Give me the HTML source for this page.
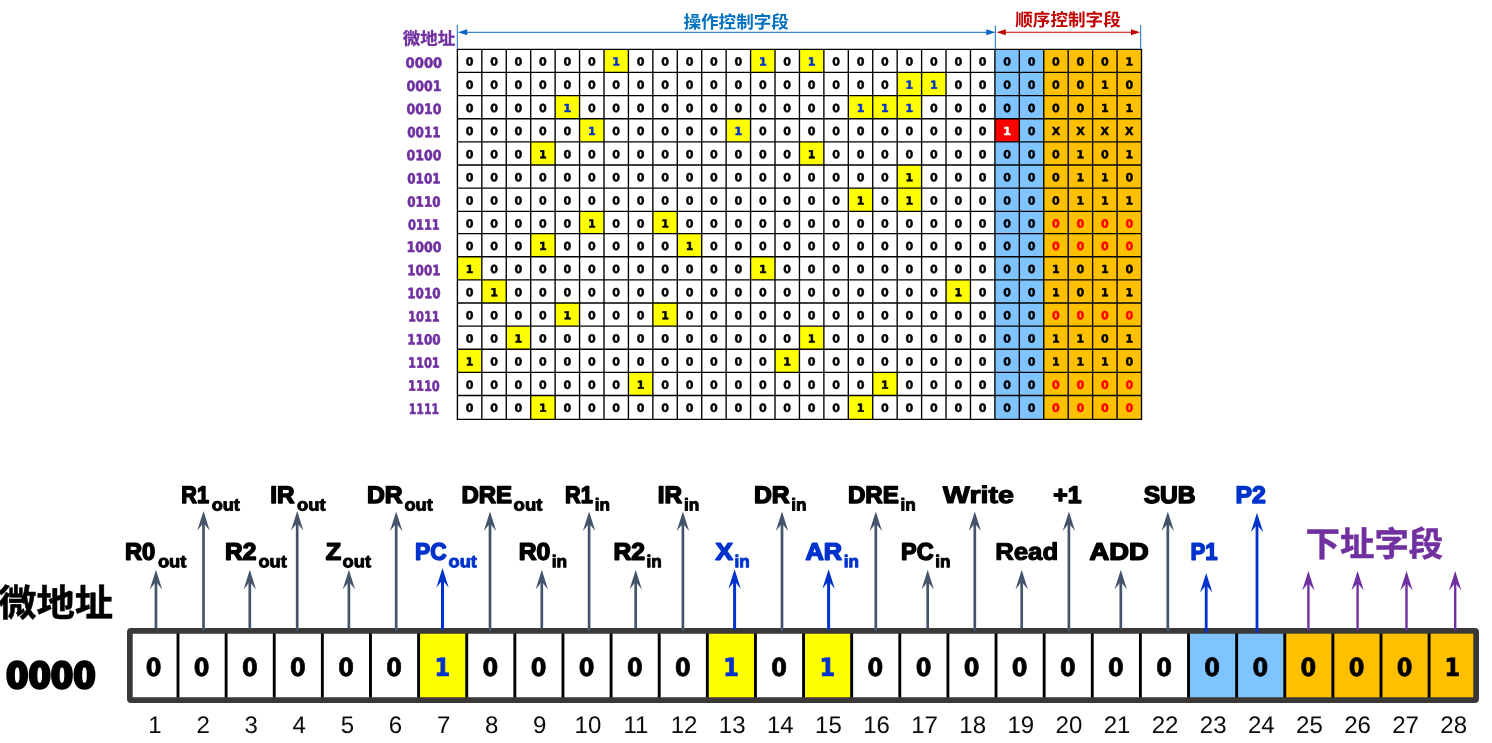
<!DOCTYPE html>
<html lang="zh"><head><meta charset="utf-8"><title>微程序 微指令格式</title>
<style>html,body{margin:0;padding:0;background:#fff;overflow:hidden}svg{display:block}.d{font-family:'DejaVu Sans','Liberation Sans',sans-serif;font-weight:bold;font-size:11.1px;text-anchor:middle;stroke-width:0.45px;stroke-linejoin:round}.d1{stroke-width:0.5px}.rl{font-family:'DejaVu Sans','Liberation Sans',sans-serif;font-weight:bold;font-size:14.2px;text-anchor:middle;fill:#7030A0;stroke:#7030A0;stroke-width:0.6px;stroke-linejoin:round}.cj{font-family:'Liberation Sans','Noto Sans CJK SC',sans-serif;font-weight:bold}.lb{font-family:'Liberation Sans',sans-serif;font-weight:bold;font-size:24px;stroke-width:1.5px;stroke-linejoin:round}.sb{font-size:17.2px;stroke-width:0.95px}.bd{font-family:'DejaVu Sans Condensed','DejaVu Sans','Liberation Sans',sans-serif;font-weight:bold;font-size:25.0px;text-anchor:middle;stroke-width:0.7px;stroke-linejoin:round}.nm{font-family:'Liberation Sans',sans-serif;font-size:24px;text-anchor:middle;fill:#0a0a0a}</style></head><body>
<svg width="1492" height="743" viewBox="0 0 1492 743">
<rect width="1492" height="743" fill="#fff"/>
<g id="table">
<rect x="994.90" y="49.30" width="48.86" height="370.00" fill="#80C4FF"/>
<rect x="1043.77" y="49.30" width="97.73" height="370.00" fill="#FFC000"/>
<rect x="603.99" y="49.30" width="24.43" height="23.14" fill="#FFFF00"/>
<rect x="750.58" y="49.30" width="24.43" height="23.14" fill="#FFFF00"/>
<rect x="799.45" y="49.30" width="24.43" height="23.14" fill="#FFFF00"/>
<rect x="897.18" y="72.44" width="24.43" height="23.14" fill="#FFFF00"/>
<rect x="921.61" y="72.44" width="24.43" height="23.14" fill="#FFFF00"/>
<rect x="555.13" y="95.59" width="24.43" height="23.14" fill="#FFFF00"/>
<rect x="848.31" y="95.59" width="24.43" height="23.14" fill="#FFFF00"/>
<rect x="872.74" y="95.59" width="24.43" height="23.14" fill="#FFFF00"/>
<rect x="897.18" y="95.59" width="24.43" height="23.14" fill="#FFFF00"/>
<rect x="579.56" y="118.73" width="24.43" height="23.14" fill="#FFFF00"/>
<rect x="726.15" y="118.73" width="24.43" height="23.14" fill="#FFFF00"/>
<rect x="994.90" y="118.73" width="24.43" height="23.14" fill="#FF0000"/>
<rect x="530.70" y="141.87" width="24.43" height="23.14" fill="#FFFF00"/>
<rect x="799.45" y="141.87" width="24.43" height="23.14" fill="#FFFF00"/>
<rect x="897.18" y="165.01" width="24.43" height="23.14" fill="#FFFF00"/>
<rect x="848.31" y="188.16" width="24.43" height="23.14" fill="#FFFF00"/>
<rect x="897.18" y="188.16" width="24.43" height="23.14" fill="#FFFF00"/>
<rect x="579.56" y="211.30" width="24.43" height="22.30" fill="#FFFF00"/>
<rect x="652.86" y="211.30" width="24.43" height="22.30" fill="#FFFF00"/>
<rect x="530.70" y="233.60" width="24.43" height="23.13" fill="#FFFF00"/>
<rect x="677.29" y="233.60" width="24.43" height="23.13" fill="#FFFF00"/>
<rect x="457.40" y="256.73" width="24.43" height="23.13" fill="#FFFF00"/>
<rect x="750.58" y="256.73" width="24.43" height="23.13" fill="#FFFF00"/>
<rect x="481.83" y="279.86" width="24.43" height="23.13" fill="#FFFF00"/>
<rect x="946.04" y="279.86" width="24.43" height="23.13" fill="#FFFF00"/>
<rect x="555.13" y="302.99" width="24.43" height="23.13" fill="#FFFF00"/>
<rect x="652.86" y="302.99" width="24.43" height="23.13" fill="#FFFF00"/>
<rect x="506.26" y="326.12" width="24.43" height="23.13" fill="#FFFF00"/>
<rect x="799.45" y="326.12" width="24.43" height="23.13" fill="#FFFF00"/>
<rect x="457.40" y="349.25" width="24.43" height="23.13" fill="#FFFF00"/>
<rect x="775.02" y="349.25" width="24.43" height="23.13" fill="#FFFF00"/>
<rect x="628.42" y="372.38" width="24.43" height="23.13" fill="#FFFF00"/>
<rect x="872.74" y="372.38" width="24.43" height="23.13" fill="#FFFF00"/>
<rect x="530.70" y="395.51" width="24.43" height="23.79" fill="#FFFF00"/>
<rect x="848.31" y="395.51" width="24.43" height="23.79" fill="#FFFF00"/>
<path d="M457.40 48.65V419.95M481.83 48.65V419.95M506.26 48.65V419.95M530.70 48.65V419.95M555.13 48.65V419.95M579.56 48.65V419.95M603.99 48.65V419.95M628.42 48.65V419.95M652.86 48.65V419.95M677.29 48.65V419.95M701.72 48.65V419.95M726.15 48.65V419.95M750.58 48.65V419.95M775.02 48.65V419.95M799.45 48.65V419.95M823.88 48.65V419.95M848.31 48.65V419.95M872.74 48.65V419.95M897.18 48.65V419.95M921.61 48.65V419.95M946.04 48.65V419.95M970.47 48.65V419.95M994.90 48.65V419.95M1019.34 48.65V419.95M1043.77 48.65V419.95M1068.20 48.65V419.95M1092.63 48.65V419.95M1117.06 48.65V419.95M1141.50 48.65V419.95M456.75 49.30H1142.15M456.75 72.44H1142.15M456.75 95.59H1142.15M456.75 118.73H1142.15M456.75 141.87H1142.15M456.75 165.01H1142.15M456.75 188.16H1142.15M456.75 211.30H1142.15M456.75 233.60H1142.15M456.75 256.73H1142.15M456.75 279.86H1142.15M456.75 302.99H1142.15M456.75 326.12H1142.15M456.75 349.25H1142.15M456.75 372.38H1142.15M456.75 395.51H1142.15M456.75 419.30H1142.15" stroke="#000" stroke-width="1.35" fill="none"/>
<g>
<text class="rl" x="423.9" y="67.80" transform="rotate(0.05 423.9 67.80)" textLength="36.6" lengthAdjust="spacingAndGlyphs">0000</text>
<text class="d" x="469.62" y="65.63" transform="rotate(0.05 469.62 65.63)" fill="#000" stroke="#000">0</text>
<text class="d" x="494.05" y="65.63" transform="rotate(0.05 494.05 65.63)" fill="#000" stroke="#000">0</text>
<text class="d" x="518.48" y="65.63" transform="rotate(0.05 518.48 65.63)" fill="#000" stroke="#000">0</text>
<text class="d" x="542.91" y="65.63" transform="rotate(0.05 542.91 65.63)" fill="#000" stroke="#000">0</text>
<text class="d" x="567.34" y="65.63" transform="rotate(0.05 567.34 65.63)" fill="#000" stroke="#000">0</text>
<text class="d" x="591.78" y="65.63" transform="rotate(0.05 591.78 65.63)" fill="#000" stroke="#000">0</text>
<text class="d d1" x="616.21" y="65.63" transform="rotate(0.05 616.21 65.63)" fill="#0033CC" stroke="#0033CC">1</text>
<text class="d" x="640.64" y="65.63" transform="rotate(0.05 640.64 65.63)" fill="#000" stroke="#000">0</text>
<text class="d" x="665.07" y="65.63" transform="rotate(0.05 665.07 65.63)" fill="#000" stroke="#000">0</text>
<text class="d" x="689.50" y="65.63" transform="rotate(0.05 689.50 65.63)" fill="#000" stroke="#000">0</text>
<text class="d" x="713.94" y="65.63" transform="rotate(0.05 713.94 65.63)" fill="#000" stroke="#000">0</text>
<text class="d" x="738.37" y="65.63" transform="rotate(0.05 738.37 65.63)" fill="#000" stroke="#000">0</text>
<text class="d d1" x="762.80" y="65.63" transform="rotate(0.05 762.80 65.63)" fill="#0033CC" stroke="#0033CC">1</text>
<text class="d" x="787.23" y="65.63" transform="rotate(0.05 787.23 65.63)" fill="#000" stroke="#000">0</text>
<text class="d d1" x="811.66" y="65.63" transform="rotate(0.05 811.66 65.63)" fill="#0033CC" stroke="#0033CC">1</text>
<text class="d" x="836.10" y="65.63" transform="rotate(0.05 836.10 65.63)" fill="#000" stroke="#000">0</text>
<text class="d" x="860.53" y="65.63" transform="rotate(0.05 860.53 65.63)" fill="#000" stroke="#000">0</text>
<text class="d" x="884.96" y="65.63" transform="rotate(0.05 884.96 65.63)" fill="#000" stroke="#000">0</text>
<text class="d" x="909.39" y="65.63" transform="rotate(0.05 909.39 65.63)" fill="#000" stroke="#000">0</text>
<text class="d" x="933.82" y="65.63" transform="rotate(0.05 933.82 65.63)" fill="#000" stroke="#000">0</text>
<text class="d" x="958.26" y="65.63" transform="rotate(0.05 958.26 65.63)" fill="#000" stroke="#000">0</text>
<text class="d" x="982.69" y="65.63" transform="rotate(0.05 982.69 65.63)" fill="#000" stroke="#000">0</text>
<text class="d" x="1007.12" y="65.63" transform="rotate(0.05 1007.12 65.63)" fill="#000" stroke="#000">0</text>
<text class="d" x="1031.55" y="65.63" transform="rotate(0.05 1031.55 65.63)" fill="#000" stroke="#000">0</text>
<text class="d" x="1055.98" y="65.63" transform="rotate(0.05 1055.98 65.63)" fill="#000" stroke="#000">0</text>
<text class="d" x="1080.42" y="65.63" transform="rotate(0.05 1080.42 65.63)" fill="#000" stroke="#000">0</text>
<text class="d" x="1104.85" y="65.63" transform="rotate(0.05 1104.85 65.63)" fill="#000" stroke="#000">0</text>
<text class="d d1" x="1129.28" y="65.63" transform="rotate(0.05 1129.28 65.63)" fill="#000" stroke="#000">1</text>
</g>
<g>
<text class="rl" x="423.9" y="90.94" transform="rotate(0.05 423.9 90.94)" textLength="35.0" lengthAdjust="spacingAndGlyphs">0001</text>
<text class="d" x="469.62" y="88.77" transform="rotate(0.05 469.62 88.77)" fill="#000" stroke="#000">0</text>
<text class="d" x="494.05" y="88.77" transform="rotate(0.05 494.05 88.77)" fill="#000" stroke="#000">0</text>
<text class="d" x="518.48" y="88.77" transform="rotate(0.05 518.48 88.77)" fill="#000" stroke="#000">0</text>
<text class="d" x="542.91" y="88.77" transform="rotate(0.05 542.91 88.77)" fill="#000" stroke="#000">0</text>
<text class="d" x="567.34" y="88.77" transform="rotate(0.05 567.34 88.77)" fill="#000" stroke="#000">0</text>
<text class="d" x="591.78" y="88.77" transform="rotate(0.05 591.78 88.77)" fill="#000" stroke="#000">0</text>
<text class="d" x="616.21" y="88.77" transform="rotate(0.05 616.21 88.77)" fill="#000" stroke="#000">0</text>
<text class="d" x="640.64" y="88.77" transform="rotate(0.05 640.64 88.77)" fill="#000" stroke="#000">0</text>
<text class="d" x="665.07" y="88.77" transform="rotate(0.05 665.07 88.77)" fill="#000" stroke="#000">0</text>
<text class="d" x="689.50" y="88.77" transform="rotate(0.05 689.50 88.77)" fill="#000" stroke="#000">0</text>
<text class="d" x="713.94" y="88.77" transform="rotate(0.05 713.94 88.77)" fill="#000" stroke="#000">0</text>
<text class="d" x="738.37" y="88.77" transform="rotate(0.05 738.37 88.77)" fill="#000" stroke="#000">0</text>
<text class="d" x="762.80" y="88.77" transform="rotate(0.05 762.80 88.77)" fill="#000" stroke="#000">0</text>
<text class="d" x="787.23" y="88.77" transform="rotate(0.05 787.23 88.77)" fill="#000" stroke="#000">0</text>
<text class="d" x="811.66" y="88.77" transform="rotate(0.05 811.66 88.77)" fill="#000" stroke="#000">0</text>
<text class="d" x="836.10" y="88.77" transform="rotate(0.05 836.10 88.77)" fill="#000" stroke="#000">0</text>
<text class="d" x="860.53" y="88.77" transform="rotate(0.05 860.53 88.77)" fill="#000" stroke="#000">0</text>
<text class="d" x="884.96" y="88.77" transform="rotate(0.05 884.96 88.77)" fill="#000" stroke="#000">0</text>
<text class="d d1" x="909.39" y="88.77" transform="rotate(0.05 909.39 88.77)" fill="#0033CC" stroke="#0033CC">1</text>
<text class="d d1" x="933.82" y="88.77" transform="rotate(0.05 933.82 88.77)" fill="#0033CC" stroke="#0033CC">1</text>
<text class="d" x="958.26" y="88.77" transform="rotate(0.05 958.26 88.77)" fill="#000" stroke="#000">0</text>
<text class="d" x="982.69" y="88.77" transform="rotate(0.05 982.69 88.77)" fill="#000" stroke="#000">0</text>
<text class="d" x="1007.12" y="88.77" transform="rotate(0.05 1007.12 88.77)" fill="#000" stroke="#000">0</text>
<text class="d" x="1031.55" y="88.77" transform="rotate(0.05 1031.55 88.77)" fill="#000" stroke="#000">0</text>
<text class="d" x="1055.98" y="88.77" transform="rotate(0.05 1055.98 88.77)" fill="#000" stroke="#000">0</text>
<text class="d" x="1080.42" y="88.77" transform="rotate(0.05 1080.42 88.77)" fill="#000" stroke="#000">0</text>
<text class="d d1" x="1104.85" y="88.77" transform="rotate(0.05 1104.85 88.77)" fill="#000" stroke="#000">1</text>
<text class="d" x="1129.28" y="88.77" transform="rotate(0.05 1129.28 88.77)" fill="#000" stroke="#000">0</text>
</g>
<g>
<text class="rl" x="423.9" y="114.09" transform="rotate(0.05 423.9 114.09)" textLength="35.0" lengthAdjust="spacingAndGlyphs">0010</text>
<text class="d" x="469.62" y="111.92" transform="rotate(0.05 469.62 111.92)" fill="#000" stroke="#000">0</text>
<text class="d" x="494.05" y="111.92" transform="rotate(0.05 494.05 111.92)" fill="#000" stroke="#000">0</text>
<text class="d" x="518.48" y="111.92" transform="rotate(0.05 518.48 111.92)" fill="#000" stroke="#000">0</text>
<text class="d" x="542.91" y="111.92" transform="rotate(0.05 542.91 111.92)" fill="#000" stroke="#000">0</text>
<text class="d d1" x="567.34" y="111.92" transform="rotate(0.05 567.34 111.92)" fill="#0033CC" stroke="#0033CC">1</text>
<text class="d" x="591.78" y="111.92" transform="rotate(0.05 591.78 111.92)" fill="#000" stroke="#000">0</text>
<text class="d" x="616.21" y="111.92" transform="rotate(0.05 616.21 111.92)" fill="#000" stroke="#000">0</text>
<text class="d" x="640.64" y="111.92" transform="rotate(0.05 640.64 111.92)" fill="#000" stroke="#000">0</text>
<text class="d" x="665.07" y="111.92" transform="rotate(0.05 665.07 111.92)" fill="#000" stroke="#000">0</text>
<text class="d" x="689.50" y="111.92" transform="rotate(0.05 689.50 111.92)" fill="#000" stroke="#000">0</text>
<text class="d" x="713.94" y="111.92" transform="rotate(0.05 713.94 111.92)" fill="#000" stroke="#000">0</text>
<text class="d" x="738.37" y="111.92" transform="rotate(0.05 738.37 111.92)" fill="#000" stroke="#000">0</text>
<text class="d" x="762.80" y="111.92" transform="rotate(0.05 762.80 111.92)" fill="#000" stroke="#000">0</text>
<text class="d" x="787.23" y="111.92" transform="rotate(0.05 787.23 111.92)" fill="#000" stroke="#000">0</text>
<text class="d" x="811.66" y="111.92" transform="rotate(0.05 811.66 111.92)" fill="#000" stroke="#000">0</text>
<text class="d" x="836.10" y="111.92" transform="rotate(0.05 836.10 111.92)" fill="#000" stroke="#000">0</text>
<text class="d d1" x="860.53" y="111.92" transform="rotate(0.05 860.53 111.92)" fill="#0033CC" stroke="#0033CC">1</text>
<text class="d d1" x="884.96" y="111.92" transform="rotate(0.05 884.96 111.92)" fill="#0033CC" stroke="#0033CC">1</text>
<text class="d d1" x="909.39" y="111.92" transform="rotate(0.05 909.39 111.92)" fill="#0033CC" stroke="#0033CC">1</text>
<text class="d" x="933.82" y="111.92" transform="rotate(0.05 933.82 111.92)" fill="#000" stroke="#000">0</text>
<text class="d" x="958.26" y="111.92" transform="rotate(0.05 958.26 111.92)" fill="#000" stroke="#000">0</text>
<text class="d" x="982.69" y="111.92" transform="rotate(0.05 982.69 111.92)" fill="#000" stroke="#000">0</text>
<text class="d" x="1007.12" y="111.92" transform="rotate(0.05 1007.12 111.92)" fill="#000" stroke="#000">0</text>
<text class="d" x="1031.55" y="111.92" transform="rotate(0.05 1031.55 111.92)" fill="#000" stroke="#000">0</text>
<text class="d" x="1055.98" y="111.92" transform="rotate(0.05 1055.98 111.92)" fill="#000" stroke="#000">0</text>
<text class="d" x="1080.42" y="111.92" transform="rotate(0.05 1080.42 111.92)" fill="#000" stroke="#000">0</text>
<text class="d d1" x="1104.85" y="111.92" transform="rotate(0.05 1104.85 111.92)" fill="#000" stroke="#000">1</text>
<text class="d d1" x="1129.28" y="111.92" transform="rotate(0.05 1129.28 111.92)" fill="#000" stroke="#000">1</text>
</g>
<g>
<text class="rl" x="423.9" y="137.23" transform="rotate(0.05 423.9 137.23)" textLength="33.4" lengthAdjust="spacingAndGlyphs">0011</text>
<text class="d" x="469.62" y="135.06" transform="rotate(0.05 469.62 135.06)" fill="#000" stroke="#000">0</text>
<text class="d" x="494.05" y="135.06" transform="rotate(0.05 494.05 135.06)" fill="#000" stroke="#000">0</text>
<text class="d" x="518.48" y="135.06" transform="rotate(0.05 518.48 135.06)" fill="#000" stroke="#000">0</text>
<text class="d" x="542.91" y="135.06" transform="rotate(0.05 542.91 135.06)" fill="#000" stroke="#000">0</text>
<text class="d" x="567.34" y="135.06" transform="rotate(0.05 567.34 135.06)" fill="#000" stroke="#000">0</text>
<text class="d d1" x="591.78" y="135.06" transform="rotate(0.05 591.78 135.06)" fill="#0033CC" stroke="#0033CC">1</text>
<text class="d" x="616.21" y="135.06" transform="rotate(0.05 616.21 135.06)" fill="#000" stroke="#000">0</text>
<text class="d" x="640.64" y="135.06" transform="rotate(0.05 640.64 135.06)" fill="#000" stroke="#000">0</text>
<text class="d" x="665.07" y="135.06" transform="rotate(0.05 665.07 135.06)" fill="#000" stroke="#000">0</text>
<text class="d" x="689.50" y="135.06" transform="rotate(0.05 689.50 135.06)" fill="#000" stroke="#000">0</text>
<text class="d" x="713.94" y="135.06" transform="rotate(0.05 713.94 135.06)" fill="#000" stroke="#000">0</text>
<text class="d d1" x="738.37" y="135.06" transform="rotate(0.05 738.37 135.06)" fill="#0033CC" stroke="#0033CC">1</text>
<text class="d" x="762.80" y="135.06" transform="rotate(0.05 762.80 135.06)" fill="#000" stroke="#000">0</text>
<text class="d" x="787.23" y="135.06" transform="rotate(0.05 787.23 135.06)" fill="#000" stroke="#000">0</text>
<text class="d" x="811.66" y="135.06" transform="rotate(0.05 811.66 135.06)" fill="#000" stroke="#000">0</text>
<text class="d" x="836.10" y="135.06" transform="rotate(0.05 836.10 135.06)" fill="#000" stroke="#000">0</text>
<text class="d" x="860.53" y="135.06" transform="rotate(0.05 860.53 135.06)" fill="#000" stroke="#000">0</text>
<text class="d" x="884.96" y="135.06" transform="rotate(0.05 884.96 135.06)" fill="#000" stroke="#000">0</text>
<text class="d" x="909.39" y="135.06" transform="rotate(0.05 909.39 135.06)" fill="#000" stroke="#000">0</text>
<text class="d" x="933.82" y="135.06" transform="rotate(0.05 933.82 135.06)" fill="#000" stroke="#000">0</text>
<text class="d" x="958.26" y="135.06" transform="rotate(0.05 958.26 135.06)" fill="#000" stroke="#000">0</text>
<text class="d" x="982.69" y="135.06" transform="rotate(0.05 982.69 135.06)" fill="#000" stroke="#000">0</text>
<text class="d d1" x="1007.12" y="135.06" transform="rotate(0.05 1007.12 135.06)" fill="#fff" stroke="#fff">1</text>
<text class="d" x="1031.55" y="135.06" transform="rotate(0.05 1031.55 135.06)" fill="#000" stroke="#000">0</text>
<text class="d" x="1055.98" y="135.06" transform="rotate(0.05 1055.98 135.06)" fill="#000" stroke="#000">X</text>
<text class="d" x="1080.42" y="135.06" transform="rotate(0.05 1080.42 135.06)" fill="#000" stroke="#000">X</text>
<text class="d" x="1104.85" y="135.06" transform="rotate(0.05 1104.85 135.06)" fill="#000" stroke="#000">X</text>
<text class="d" x="1129.28" y="135.06" transform="rotate(0.05 1129.28 135.06)" fill="#000" stroke="#000">X</text>
</g>
<g>
<text class="rl" x="423.9" y="160.37" transform="rotate(0.05 423.9 160.37)" textLength="35.0" lengthAdjust="spacingAndGlyphs">0100</text>
<text class="d" x="469.62" y="158.20" transform="rotate(0.05 469.62 158.20)" fill="#000" stroke="#000">0</text>
<text class="d" x="494.05" y="158.20" transform="rotate(0.05 494.05 158.20)" fill="#000" stroke="#000">0</text>
<text class="d" x="518.48" y="158.20" transform="rotate(0.05 518.48 158.20)" fill="#000" stroke="#000">0</text>
<text class="d d1" x="542.91" y="158.20" transform="rotate(0.05 542.91 158.20)" fill="#000" stroke="#000">1</text>
<text class="d" x="567.34" y="158.20" transform="rotate(0.05 567.34 158.20)" fill="#000" stroke="#000">0</text>
<text class="d" x="591.78" y="158.20" transform="rotate(0.05 591.78 158.20)" fill="#000" stroke="#000">0</text>
<text class="d" x="616.21" y="158.20" transform="rotate(0.05 616.21 158.20)" fill="#000" stroke="#000">0</text>
<text class="d" x="640.64" y="158.20" transform="rotate(0.05 640.64 158.20)" fill="#000" stroke="#000">0</text>
<text class="d" x="665.07" y="158.20" transform="rotate(0.05 665.07 158.20)" fill="#000" stroke="#000">0</text>
<text class="d" x="689.50" y="158.20" transform="rotate(0.05 689.50 158.20)" fill="#000" stroke="#000">0</text>
<text class="d" x="713.94" y="158.20" transform="rotate(0.05 713.94 158.20)" fill="#000" stroke="#000">0</text>
<text class="d" x="738.37" y="158.20" transform="rotate(0.05 738.37 158.20)" fill="#000" stroke="#000">0</text>
<text class="d" x="762.80" y="158.20" transform="rotate(0.05 762.80 158.20)" fill="#000" stroke="#000">0</text>
<text class="d" x="787.23" y="158.20" transform="rotate(0.05 787.23 158.20)" fill="#000" stroke="#000">0</text>
<text class="d d1" x="811.66" y="158.20" transform="rotate(0.05 811.66 158.20)" fill="#000" stroke="#000">1</text>
<text class="d" x="836.10" y="158.20" transform="rotate(0.05 836.10 158.20)" fill="#000" stroke="#000">0</text>
<text class="d" x="860.53" y="158.20" transform="rotate(0.05 860.53 158.20)" fill="#000" stroke="#000">0</text>
<text class="d" x="884.96" y="158.20" transform="rotate(0.05 884.96 158.20)" fill="#000" stroke="#000">0</text>
<text class="d" x="909.39" y="158.20" transform="rotate(0.05 909.39 158.20)" fill="#000" stroke="#000">0</text>
<text class="d" x="933.82" y="158.20" transform="rotate(0.05 933.82 158.20)" fill="#000" stroke="#000">0</text>
<text class="d" x="958.26" y="158.20" transform="rotate(0.05 958.26 158.20)" fill="#000" stroke="#000">0</text>
<text class="d" x="982.69" y="158.20" transform="rotate(0.05 982.69 158.20)" fill="#000" stroke="#000">0</text>
<text class="d" x="1007.12" y="158.20" transform="rotate(0.05 1007.12 158.20)" fill="#000" stroke="#000">0</text>
<text class="d" x="1031.55" y="158.20" transform="rotate(0.05 1031.55 158.20)" fill="#000" stroke="#000">0</text>
<text class="d" x="1055.98" y="158.20" transform="rotate(0.05 1055.98 158.20)" fill="#000" stroke="#000">0</text>
<text class="d d1" x="1080.42" y="158.20" transform="rotate(0.05 1080.42 158.20)" fill="#000" stroke="#000">1</text>
<text class="d" x="1104.85" y="158.20" transform="rotate(0.05 1104.85 158.20)" fill="#000" stroke="#000">0</text>
<text class="d d1" x="1129.28" y="158.20" transform="rotate(0.05 1129.28 158.20)" fill="#000" stroke="#000">1</text>
</g>
<g>
<text class="rl" x="423.9" y="183.51" transform="rotate(0.05 423.9 183.51)" textLength="33.4" lengthAdjust="spacingAndGlyphs">0101</text>
<text class="d" x="469.62" y="181.34" transform="rotate(0.05 469.62 181.34)" fill="#000" stroke="#000">0</text>
<text class="d" x="494.05" y="181.34" transform="rotate(0.05 494.05 181.34)" fill="#000" stroke="#000">0</text>
<text class="d" x="518.48" y="181.34" transform="rotate(0.05 518.48 181.34)" fill="#000" stroke="#000">0</text>
<text class="d" x="542.91" y="181.34" transform="rotate(0.05 542.91 181.34)" fill="#000" stroke="#000">0</text>
<text class="d" x="567.34" y="181.34" transform="rotate(0.05 567.34 181.34)" fill="#000" stroke="#000">0</text>
<text class="d" x="591.78" y="181.34" transform="rotate(0.05 591.78 181.34)" fill="#000" stroke="#000">0</text>
<text class="d" x="616.21" y="181.34" transform="rotate(0.05 616.21 181.34)" fill="#000" stroke="#000">0</text>
<text class="d" x="640.64" y="181.34" transform="rotate(0.05 640.64 181.34)" fill="#000" stroke="#000">0</text>
<text class="d" x="665.07" y="181.34" transform="rotate(0.05 665.07 181.34)" fill="#000" stroke="#000">0</text>
<text class="d" x="689.50" y="181.34" transform="rotate(0.05 689.50 181.34)" fill="#000" stroke="#000">0</text>
<text class="d" x="713.94" y="181.34" transform="rotate(0.05 713.94 181.34)" fill="#000" stroke="#000">0</text>
<text class="d" x="738.37" y="181.34" transform="rotate(0.05 738.37 181.34)" fill="#000" stroke="#000">0</text>
<text class="d" x="762.80" y="181.34" transform="rotate(0.05 762.80 181.34)" fill="#000" stroke="#000">0</text>
<text class="d" x="787.23" y="181.34" transform="rotate(0.05 787.23 181.34)" fill="#000" stroke="#000">0</text>
<text class="d" x="811.66" y="181.34" transform="rotate(0.05 811.66 181.34)" fill="#000" stroke="#000">0</text>
<text class="d" x="836.10" y="181.34" transform="rotate(0.05 836.10 181.34)" fill="#000" stroke="#000">0</text>
<text class="d" x="860.53" y="181.34" transform="rotate(0.05 860.53 181.34)" fill="#000" stroke="#000">0</text>
<text class="d" x="884.96" y="181.34" transform="rotate(0.05 884.96 181.34)" fill="#000" stroke="#000">0</text>
<text class="d d1" x="909.39" y="181.34" transform="rotate(0.05 909.39 181.34)" fill="#000" stroke="#000">1</text>
<text class="d" x="933.82" y="181.34" transform="rotate(0.05 933.82 181.34)" fill="#000" stroke="#000">0</text>
<text class="d" x="958.26" y="181.34" transform="rotate(0.05 958.26 181.34)" fill="#000" stroke="#000">0</text>
<text class="d" x="982.69" y="181.34" transform="rotate(0.05 982.69 181.34)" fill="#000" stroke="#000">0</text>
<text class="d" x="1007.12" y="181.34" transform="rotate(0.05 1007.12 181.34)" fill="#000" stroke="#000">0</text>
<text class="d" x="1031.55" y="181.34" transform="rotate(0.05 1031.55 181.34)" fill="#000" stroke="#000">0</text>
<text class="d" x="1055.98" y="181.34" transform="rotate(0.05 1055.98 181.34)" fill="#000" stroke="#000">0</text>
<text class="d d1" x="1080.42" y="181.34" transform="rotate(0.05 1080.42 181.34)" fill="#000" stroke="#000">1</text>
<text class="d d1" x="1104.85" y="181.34" transform="rotate(0.05 1104.85 181.34)" fill="#000" stroke="#000">1</text>
<text class="d" x="1129.28" y="181.34" transform="rotate(0.05 1129.28 181.34)" fill="#000" stroke="#000">0</text>
</g>
<g>
<text class="rl" x="423.9" y="206.66" transform="rotate(0.05 423.9 206.66)" textLength="33.4" lengthAdjust="spacingAndGlyphs">0110</text>
<text class="d" x="469.62" y="204.49" transform="rotate(0.05 469.62 204.49)" fill="#000" stroke="#000">0</text>
<text class="d" x="494.05" y="204.49" transform="rotate(0.05 494.05 204.49)" fill="#000" stroke="#000">0</text>
<text class="d" x="518.48" y="204.49" transform="rotate(0.05 518.48 204.49)" fill="#000" stroke="#000">0</text>
<text class="d" x="542.91" y="204.49" transform="rotate(0.05 542.91 204.49)" fill="#000" stroke="#000">0</text>
<text class="d" x="567.34" y="204.49" transform="rotate(0.05 567.34 204.49)" fill="#000" stroke="#000">0</text>
<text class="d" x="591.78" y="204.49" transform="rotate(0.05 591.78 204.49)" fill="#000" stroke="#000">0</text>
<text class="d" x="616.21" y="204.49" transform="rotate(0.05 616.21 204.49)" fill="#000" stroke="#000">0</text>
<text class="d" x="640.64" y="204.49" transform="rotate(0.05 640.64 204.49)" fill="#000" stroke="#000">0</text>
<text class="d" x="665.07" y="204.49" transform="rotate(0.05 665.07 204.49)" fill="#000" stroke="#000">0</text>
<text class="d" x="689.50" y="204.49" transform="rotate(0.05 689.50 204.49)" fill="#000" stroke="#000">0</text>
<text class="d" x="713.94" y="204.49" transform="rotate(0.05 713.94 204.49)" fill="#000" stroke="#000">0</text>
<text class="d" x="738.37" y="204.49" transform="rotate(0.05 738.37 204.49)" fill="#000" stroke="#000">0</text>
<text class="d" x="762.80" y="204.49" transform="rotate(0.05 762.80 204.49)" fill="#000" stroke="#000">0</text>
<text class="d" x="787.23" y="204.49" transform="rotate(0.05 787.23 204.49)" fill="#000" stroke="#000">0</text>
<text class="d" x="811.66" y="204.49" transform="rotate(0.05 811.66 204.49)" fill="#000" stroke="#000">0</text>
<text class="d" x="836.10" y="204.49" transform="rotate(0.05 836.10 204.49)" fill="#000" stroke="#000">0</text>
<text class="d d1" x="860.53" y="204.49" transform="rotate(0.05 860.53 204.49)" fill="#000" stroke="#000">1</text>
<text class="d" x="884.96" y="204.49" transform="rotate(0.05 884.96 204.49)" fill="#000" stroke="#000">0</text>
<text class="d d1" x="909.39" y="204.49" transform="rotate(0.05 909.39 204.49)" fill="#000" stroke="#000">1</text>
<text class="d" x="933.82" y="204.49" transform="rotate(0.05 933.82 204.49)" fill="#000" stroke="#000">0</text>
<text class="d" x="958.26" y="204.49" transform="rotate(0.05 958.26 204.49)" fill="#000" stroke="#000">0</text>
<text class="d" x="982.69" y="204.49" transform="rotate(0.05 982.69 204.49)" fill="#000" stroke="#000">0</text>
<text class="d" x="1007.12" y="204.49" transform="rotate(0.05 1007.12 204.49)" fill="#000" stroke="#000">0</text>
<text class="d" x="1031.55" y="204.49" transform="rotate(0.05 1031.55 204.49)" fill="#000" stroke="#000">0</text>
<text class="d" x="1055.98" y="204.49" transform="rotate(0.05 1055.98 204.49)" fill="#000" stroke="#000">0</text>
<text class="d d1" x="1080.42" y="204.49" transform="rotate(0.05 1080.42 204.49)" fill="#000" stroke="#000">1</text>
<text class="d d1" x="1104.85" y="204.49" transform="rotate(0.05 1104.85 204.49)" fill="#000" stroke="#000">1</text>
<text class="d d1" x="1129.28" y="204.49" transform="rotate(0.05 1129.28 204.49)" fill="#000" stroke="#000">1</text>
</g>
<g>
<text class="rl" x="423.9" y="229.80" transform="rotate(0.05 423.9 229.80)" textLength="31.8" lengthAdjust="spacingAndGlyphs">0111</text>
<text class="d" x="469.62" y="227.63" transform="rotate(0.05 469.62 227.63)" fill="#000" stroke="#000">0</text>
<text class="d" x="494.05" y="227.63" transform="rotate(0.05 494.05 227.63)" fill="#000" stroke="#000">0</text>
<text class="d" x="518.48" y="227.63" transform="rotate(0.05 518.48 227.63)" fill="#000" stroke="#000">0</text>
<text class="d" x="542.91" y="227.63" transform="rotate(0.05 542.91 227.63)" fill="#000" stroke="#000">0</text>
<text class="d" x="567.34" y="227.63" transform="rotate(0.05 567.34 227.63)" fill="#000" stroke="#000">0</text>
<text class="d d1" x="591.78" y="227.63" transform="rotate(0.05 591.78 227.63)" fill="#000" stroke="#000">1</text>
<text class="d" x="616.21" y="227.63" transform="rotate(0.05 616.21 227.63)" fill="#000" stroke="#000">0</text>
<text class="d" x="640.64" y="227.63" transform="rotate(0.05 640.64 227.63)" fill="#000" stroke="#000">0</text>
<text class="d d1" x="665.07" y="227.63" transform="rotate(0.05 665.07 227.63)" fill="#000" stroke="#000">1</text>
<text class="d" x="689.50" y="227.63" transform="rotate(0.05 689.50 227.63)" fill="#000" stroke="#000">0</text>
<text class="d" x="713.94" y="227.63" transform="rotate(0.05 713.94 227.63)" fill="#000" stroke="#000">0</text>
<text class="d" x="738.37" y="227.63" transform="rotate(0.05 738.37 227.63)" fill="#000" stroke="#000">0</text>
<text class="d" x="762.80" y="227.63" transform="rotate(0.05 762.80 227.63)" fill="#000" stroke="#000">0</text>
<text class="d" x="787.23" y="227.63" transform="rotate(0.05 787.23 227.63)" fill="#000" stroke="#000">0</text>
<text class="d" x="811.66" y="227.63" transform="rotate(0.05 811.66 227.63)" fill="#000" stroke="#000">0</text>
<text class="d" x="836.10" y="227.63" transform="rotate(0.05 836.10 227.63)" fill="#000" stroke="#000">0</text>
<text class="d" x="860.53" y="227.63" transform="rotate(0.05 860.53 227.63)" fill="#000" stroke="#000">0</text>
<text class="d" x="884.96" y="227.63" transform="rotate(0.05 884.96 227.63)" fill="#000" stroke="#000">0</text>
<text class="d" x="909.39" y="227.63" transform="rotate(0.05 909.39 227.63)" fill="#000" stroke="#000">0</text>
<text class="d" x="933.82" y="227.63" transform="rotate(0.05 933.82 227.63)" fill="#000" stroke="#000">0</text>
<text class="d" x="958.26" y="227.63" transform="rotate(0.05 958.26 227.63)" fill="#000" stroke="#000">0</text>
<text class="d" x="982.69" y="227.63" transform="rotate(0.05 982.69 227.63)" fill="#000" stroke="#000">0</text>
<text class="d" x="1007.12" y="227.63" transform="rotate(0.05 1007.12 227.63)" fill="#000" stroke="#000">0</text>
<text class="d" x="1031.55" y="227.63" transform="rotate(0.05 1031.55 227.63)" fill="#000" stroke="#000">0</text>
<text class="d" x="1055.98" y="227.63" transform="rotate(0.05 1055.98 227.63)" fill="#FF0000" stroke="#FF0000">0</text>
<text class="d" x="1080.42" y="227.63" transform="rotate(0.05 1080.42 227.63)" fill="#FF0000" stroke="#FF0000">0</text>
<text class="d" x="1104.85" y="227.63" transform="rotate(0.05 1104.85 227.63)" fill="#FF0000" stroke="#FF0000">0</text>
<text class="d" x="1129.28" y="227.63" transform="rotate(0.05 1129.28 227.63)" fill="#FF0000" stroke="#FF0000">0</text>
</g>
<g>
<text class="rl" x="423.9" y="252.10" transform="rotate(0.05 423.9 252.10)" textLength="35.0" lengthAdjust="spacingAndGlyphs">1000</text>
<text class="d" x="469.62" y="249.93" transform="rotate(0.05 469.62 249.93)" fill="#000" stroke="#000">0</text>
<text class="d" x="494.05" y="249.93" transform="rotate(0.05 494.05 249.93)" fill="#000" stroke="#000">0</text>
<text class="d" x="518.48" y="249.93" transform="rotate(0.05 518.48 249.93)" fill="#000" stroke="#000">0</text>
<text class="d d1" x="542.91" y="249.93" transform="rotate(0.05 542.91 249.93)" fill="#000" stroke="#000">1</text>
<text class="d" x="567.34" y="249.93" transform="rotate(0.05 567.34 249.93)" fill="#000" stroke="#000">0</text>
<text class="d" x="591.78" y="249.93" transform="rotate(0.05 591.78 249.93)" fill="#000" stroke="#000">0</text>
<text class="d" x="616.21" y="249.93" transform="rotate(0.05 616.21 249.93)" fill="#000" stroke="#000">0</text>
<text class="d" x="640.64" y="249.93" transform="rotate(0.05 640.64 249.93)" fill="#000" stroke="#000">0</text>
<text class="d" x="665.07" y="249.93" transform="rotate(0.05 665.07 249.93)" fill="#000" stroke="#000">0</text>
<text class="d d1" x="689.50" y="249.93" transform="rotate(0.05 689.50 249.93)" fill="#000" stroke="#000">1</text>
<text class="d" x="713.94" y="249.93" transform="rotate(0.05 713.94 249.93)" fill="#000" stroke="#000">0</text>
<text class="d" x="738.37" y="249.93" transform="rotate(0.05 738.37 249.93)" fill="#000" stroke="#000">0</text>
<text class="d" x="762.80" y="249.93" transform="rotate(0.05 762.80 249.93)" fill="#000" stroke="#000">0</text>
<text class="d" x="787.23" y="249.93" transform="rotate(0.05 787.23 249.93)" fill="#000" stroke="#000">0</text>
<text class="d" x="811.66" y="249.93" transform="rotate(0.05 811.66 249.93)" fill="#000" stroke="#000">0</text>
<text class="d" x="836.10" y="249.93" transform="rotate(0.05 836.10 249.93)" fill="#000" stroke="#000">0</text>
<text class="d" x="860.53" y="249.93" transform="rotate(0.05 860.53 249.93)" fill="#000" stroke="#000">0</text>
<text class="d" x="884.96" y="249.93" transform="rotate(0.05 884.96 249.93)" fill="#000" stroke="#000">0</text>
<text class="d" x="909.39" y="249.93" transform="rotate(0.05 909.39 249.93)" fill="#000" stroke="#000">0</text>
<text class="d" x="933.82" y="249.93" transform="rotate(0.05 933.82 249.93)" fill="#000" stroke="#000">0</text>
<text class="d" x="958.26" y="249.93" transform="rotate(0.05 958.26 249.93)" fill="#000" stroke="#000">0</text>
<text class="d" x="982.69" y="249.93" transform="rotate(0.05 982.69 249.93)" fill="#000" stroke="#000">0</text>
<text class="d" x="1007.12" y="249.93" transform="rotate(0.05 1007.12 249.93)" fill="#000" stroke="#000">0</text>
<text class="d" x="1031.55" y="249.93" transform="rotate(0.05 1031.55 249.93)" fill="#000" stroke="#000">0</text>
<text class="d" x="1055.98" y="249.93" transform="rotate(0.05 1055.98 249.93)" fill="#FF0000" stroke="#FF0000">0</text>
<text class="d" x="1080.42" y="249.93" transform="rotate(0.05 1080.42 249.93)" fill="#FF0000" stroke="#FF0000">0</text>
<text class="d" x="1104.85" y="249.93" transform="rotate(0.05 1104.85 249.93)" fill="#FF0000" stroke="#FF0000">0</text>
<text class="d" x="1129.28" y="249.93" transform="rotate(0.05 1129.28 249.93)" fill="#FF0000" stroke="#FF0000">0</text>
</g>
<g>
<text class="rl" x="423.9" y="275.23" transform="rotate(0.05 423.9 275.23)" textLength="33.4" lengthAdjust="spacingAndGlyphs">1001</text>
<text class="d d1" x="469.62" y="273.06" transform="rotate(0.05 469.62 273.06)" fill="#000" stroke="#000">1</text>
<text class="d" x="494.05" y="273.06" transform="rotate(0.05 494.05 273.06)" fill="#000" stroke="#000">0</text>
<text class="d" x="518.48" y="273.06" transform="rotate(0.05 518.48 273.06)" fill="#000" stroke="#000">0</text>
<text class="d" x="542.91" y="273.06" transform="rotate(0.05 542.91 273.06)" fill="#000" stroke="#000">0</text>
<text class="d" x="567.34" y="273.06" transform="rotate(0.05 567.34 273.06)" fill="#000" stroke="#000">0</text>
<text class="d" x="591.78" y="273.06" transform="rotate(0.05 591.78 273.06)" fill="#000" stroke="#000">0</text>
<text class="d" x="616.21" y="273.06" transform="rotate(0.05 616.21 273.06)" fill="#000" stroke="#000">0</text>
<text class="d" x="640.64" y="273.06" transform="rotate(0.05 640.64 273.06)" fill="#000" stroke="#000">0</text>
<text class="d" x="665.07" y="273.06" transform="rotate(0.05 665.07 273.06)" fill="#000" stroke="#000">0</text>
<text class="d" x="689.50" y="273.06" transform="rotate(0.05 689.50 273.06)" fill="#000" stroke="#000">0</text>
<text class="d" x="713.94" y="273.06" transform="rotate(0.05 713.94 273.06)" fill="#000" stroke="#000">0</text>
<text class="d" x="738.37" y="273.06" transform="rotate(0.05 738.37 273.06)" fill="#000" stroke="#000">0</text>
<text class="d d1" x="762.80" y="273.06" transform="rotate(0.05 762.80 273.06)" fill="#000" stroke="#000">1</text>
<text class="d" x="787.23" y="273.06" transform="rotate(0.05 787.23 273.06)" fill="#000" stroke="#000">0</text>
<text class="d" x="811.66" y="273.06" transform="rotate(0.05 811.66 273.06)" fill="#000" stroke="#000">0</text>
<text class="d" x="836.10" y="273.06" transform="rotate(0.05 836.10 273.06)" fill="#000" stroke="#000">0</text>
<text class="d" x="860.53" y="273.06" transform="rotate(0.05 860.53 273.06)" fill="#000" stroke="#000">0</text>
<text class="d" x="884.96" y="273.06" transform="rotate(0.05 884.96 273.06)" fill="#000" stroke="#000">0</text>
<text class="d" x="909.39" y="273.06" transform="rotate(0.05 909.39 273.06)" fill="#000" stroke="#000">0</text>
<text class="d" x="933.82" y="273.06" transform="rotate(0.05 933.82 273.06)" fill="#000" stroke="#000">0</text>
<text class="d" x="958.26" y="273.06" transform="rotate(0.05 958.26 273.06)" fill="#000" stroke="#000">0</text>
<text class="d" x="982.69" y="273.06" transform="rotate(0.05 982.69 273.06)" fill="#000" stroke="#000">0</text>
<text class="d" x="1007.12" y="273.06" transform="rotate(0.05 1007.12 273.06)" fill="#000" stroke="#000">0</text>
<text class="d" x="1031.55" y="273.06" transform="rotate(0.05 1031.55 273.06)" fill="#000" stroke="#000">0</text>
<text class="d d1" x="1055.98" y="273.06" transform="rotate(0.05 1055.98 273.06)" fill="#000" stroke="#000">1</text>
<text class="d" x="1080.42" y="273.06" transform="rotate(0.05 1080.42 273.06)" fill="#000" stroke="#000">0</text>
<text class="d d1" x="1104.85" y="273.06" transform="rotate(0.05 1104.85 273.06)" fill="#000" stroke="#000">1</text>
<text class="d" x="1129.28" y="273.06" transform="rotate(0.05 1129.28 273.06)" fill="#000" stroke="#000">0</text>
</g>
<g>
<text class="rl" x="423.9" y="298.36" transform="rotate(0.05 423.9 298.36)" textLength="33.4" lengthAdjust="spacingAndGlyphs">1010</text>
<text class="d" x="469.62" y="296.19" transform="rotate(0.05 469.62 296.19)" fill="#000" stroke="#000">0</text>
<text class="d d1" x="494.05" y="296.19" transform="rotate(0.05 494.05 296.19)" fill="#000" stroke="#000">1</text>
<text class="d" x="518.48" y="296.19" transform="rotate(0.05 518.48 296.19)" fill="#000" stroke="#000">0</text>
<text class="d" x="542.91" y="296.19" transform="rotate(0.05 542.91 296.19)" fill="#000" stroke="#000">0</text>
<text class="d" x="567.34" y="296.19" transform="rotate(0.05 567.34 296.19)" fill="#000" stroke="#000">0</text>
<text class="d" x="591.78" y="296.19" transform="rotate(0.05 591.78 296.19)" fill="#000" stroke="#000">0</text>
<text class="d" x="616.21" y="296.19" transform="rotate(0.05 616.21 296.19)" fill="#000" stroke="#000">0</text>
<text class="d" x="640.64" y="296.19" transform="rotate(0.05 640.64 296.19)" fill="#000" stroke="#000">0</text>
<text class="d" x="665.07" y="296.19" transform="rotate(0.05 665.07 296.19)" fill="#000" stroke="#000">0</text>
<text class="d" x="689.50" y="296.19" transform="rotate(0.05 689.50 296.19)" fill="#000" stroke="#000">0</text>
<text class="d" x="713.94" y="296.19" transform="rotate(0.05 713.94 296.19)" fill="#000" stroke="#000">0</text>
<text class="d" x="738.37" y="296.19" transform="rotate(0.05 738.37 296.19)" fill="#000" stroke="#000">0</text>
<text class="d" x="762.80" y="296.19" transform="rotate(0.05 762.80 296.19)" fill="#000" stroke="#000">0</text>
<text class="d" x="787.23" y="296.19" transform="rotate(0.05 787.23 296.19)" fill="#000" stroke="#000">0</text>
<text class="d" x="811.66" y="296.19" transform="rotate(0.05 811.66 296.19)" fill="#000" stroke="#000">0</text>
<text class="d" x="836.10" y="296.19" transform="rotate(0.05 836.10 296.19)" fill="#000" stroke="#000">0</text>
<text class="d" x="860.53" y="296.19" transform="rotate(0.05 860.53 296.19)" fill="#000" stroke="#000">0</text>
<text class="d" x="884.96" y="296.19" transform="rotate(0.05 884.96 296.19)" fill="#000" stroke="#000">0</text>
<text class="d" x="909.39" y="296.19" transform="rotate(0.05 909.39 296.19)" fill="#000" stroke="#000">0</text>
<text class="d" x="933.82" y="296.19" transform="rotate(0.05 933.82 296.19)" fill="#000" stroke="#000">0</text>
<text class="d d1" x="958.26" y="296.19" transform="rotate(0.05 958.26 296.19)" fill="#000" stroke="#000">1</text>
<text class="d" x="982.69" y="296.19" transform="rotate(0.05 982.69 296.19)" fill="#000" stroke="#000">0</text>
<text class="d" x="1007.12" y="296.19" transform="rotate(0.05 1007.12 296.19)" fill="#000" stroke="#000">0</text>
<text class="d" x="1031.55" y="296.19" transform="rotate(0.05 1031.55 296.19)" fill="#000" stroke="#000">0</text>
<text class="d d1" x="1055.98" y="296.19" transform="rotate(0.05 1055.98 296.19)" fill="#000" stroke="#000">1</text>
<text class="d" x="1080.42" y="296.19" transform="rotate(0.05 1080.42 296.19)" fill="#000" stroke="#000">0</text>
<text class="d d1" x="1104.85" y="296.19" transform="rotate(0.05 1104.85 296.19)" fill="#000" stroke="#000">1</text>
<text class="d d1" x="1129.28" y="296.19" transform="rotate(0.05 1129.28 296.19)" fill="#000" stroke="#000">1</text>
</g>
<g>
<text class="rl" x="423.9" y="321.49" transform="rotate(0.05 423.9 321.49)" textLength="31.8" lengthAdjust="spacingAndGlyphs">1011</text>
<text class="d" x="469.62" y="319.32" transform="rotate(0.05 469.62 319.32)" fill="#000" stroke="#000">0</text>
<text class="d" x="494.05" y="319.32" transform="rotate(0.05 494.05 319.32)" fill="#000" stroke="#000">0</text>
<text class="d" x="518.48" y="319.32" transform="rotate(0.05 518.48 319.32)" fill="#000" stroke="#000">0</text>
<text class="d" x="542.91" y="319.32" transform="rotate(0.05 542.91 319.32)" fill="#000" stroke="#000">0</text>
<text class="d d1" x="567.34" y="319.32" transform="rotate(0.05 567.34 319.32)" fill="#000" stroke="#000">1</text>
<text class="d" x="591.78" y="319.32" transform="rotate(0.05 591.78 319.32)" fill="#000" stroke="#000">0</text>
<text class="d" x="616.21" y="319.32" transform="rotate(0.05 616.21 319.32)" fill="#000" stroke="#000">0</text>
<text class="d" x="640.64" y="319.32" transform="rotate(0.05 640.64 319.32)" fill="#000" stroke="#000">0</text>
<text class="d d1" x="665.07" y="319.32" transform="rotate(0.05 665.07 319.32)" fill="#000" stroke="#000">1</text>
<text class="d" x="689.50" y="319.32" transform="rotate(0.05 689.50 319.32)" fill="#000" stroke="#000">0</text>
<text class="d" x="713.94" y="319.32" transform="rotate(0.05 713.94 319.32)" fill="#000" stroke="#000">0</text>
<text class="d" x="738.37" y="319.32" transform="rotate(0.05 738.37 319.32)" fill="#000" stroke="#000">0</text>
<text class="d" x="762.80" y="319.32" transform="rotate(0.05 762.80 319.32)" fill="#000" stroke="#000">0</text>
<text class="d" x="787.23" y="319.32" transform="rotate(0.05 787.23 319.32)" fill="#000" stroke="#000">0</text>
<text class="d" x="811.66" y="319.32" transform="rotate(0.05 811.66 319.32)" fill="#000" stroke="#000">0</text>
<text class="d" x="836.10" y="319.32" transform="rotate(0.05 836.10 319.32)" fill="#000" stroke="#000">0</text>
<text class="d" x="860.53" y="319.32" transform="rotate(0.05 860.53 319.32)" fill="#000" stroke="#000">0</text>
<text class="d" x="884.96" y="319.32" transform="rotate(0.05 884.96 319.32)" fill="#000" stroke="#000">0</text>
<text class="d" x="909.39" y="319.32" transform="rotate(0.05 909.39 319.32)" fill="#000" stroke="#000">0</text>
<text class="d" x="933.82" y="319.32" transform="rotate(0.05 933.82 319.32)" fill="#000" stroke="#000">0</text>
<text class="d" x="958.26" y="319.32" transform="rotate(0.05 958.26 319.32)" fill="#000" stroke="#000">0</text>
<text class="d" x="982.69" y="319.32" transform="rotate(0.05 982.69 319.32)" fill="#000" stroke="#000">0</text>
<text class="d" x="1007.12" y="319.32" transform="rotate(0.05 1007.12 319.32)" fill="#000" stroke="#000">0</text>
<text class="d" x="1031.55" y="319.32" transform="rotate(0.05 1031.55 319.32)" fill="#000" stroke="#000">0</text>
<text class="d" x="1055.98" y="319.32" transform="rotate(0.05 1055.98 319.32)" fill="#FF0000" stroke="#FF0000">0</text>
<text class="d" x="1080.42" y="319.32" transform="rotate(0.05 1080.42 319.32)" fill="#FF0000" stroke="#FF0000">0</text>
<text class="d" x="1104.85" y="319.32" transform="rotate(0.05 1104.85 319.32)" fill="#FF0000" stroke="#FF0000">0</text>
<text class="d" x="1129.28" y="319.32" transform="rotate(0.05 1129.28 319.32)" fill="#FF0000" stroke="#FF0000">0</text>
</g>
<g>
<text class="rl" x="423.9" y="344.62" transform="rotate(0.05 423.9 344.62)" textLength="33.4" lengthAdjust="spacingAndGlyphs">1100</text>
<text class="d" x="469.62" y="342.45" transform="rotate(0.05 469.62 342.45)" fill="#000" stroke="#000">0</text>
<text class="d" x="494.05" y="342.45" transform="rotate(0.05 494.05 342.45)" fill="#000" stroke="#000">0</text>
<text class="d d1" x="518.48" y="342.45" transform="rotate(0.05 518.48 342.45)" fill="#000" stroke="#000">1</text>
<text class="d" x="542.91" y="342.45" transform="rotate(0.05 542.91 342.45)" fill="#000" stroke="#000">0</text>
<text class="d" x="567.34" y="342.45" transform="rotate(0.05 567.34 342.45)" fill="#000" stroke="#000">0</text>
<text class="d" x="591.78" y="342.45" transform="rotate(0.05 591.78 342.45)" fill="#000" stroke="#000">0</text>
<text class="d" x="616.21" y="342.45" transform="rotate(0.05 616.21 342.45)" fill="#000" stroke="#000">0</text>
<text class="d" x="640.64" y="342.45" transform="rotate(0.05 640.64 342.45)" fill="#000" stroke="#000">0</text>
<text class="d" x="665.07" y="342.45" transform="rotate(0.05 665.07 342.45)" fill="#000" stroke="#000">0</text>
<text class="d" x="689.50" y="342.45" transform="rotate(0.05 689.50 342.45)" fill="#000" stroke="#000">0</text>
<text class="d" x="713.94" y="342.45" transform="rotate(0.05 713.94 342.45)" fill="#000" stroke="#000">0</text>
<text class="d" x="738.37" y="342.45" transform="rotate(0.05 738.37 342.45)" fill="#000" stroke="#000">0</text>
<text class="d" x="762.80" y="342.45" transform="rotate(0.05 762.80 342.45)" fill="#000" stroke="#000">0</text>
<text class="d" x="787.23" y="342.45" transform="rotate(0.05 787.23 342.45)" fill="#000" stroke="#000">0</text>
<text class="d d1" x="811.66" y="342.45" transform="rotate(0.05 811.66 342.45)" fill="#000" stroke="#000">1</text>
<text class="d" x="836.10" y="342.45" transform="rotate(0.05 836.10 342.45)" fill="#000" stroke="#000">0</text>
<text class="d" x="860.53" y="342.45" transform="rotate(0.05 860.53 342.45)" fill="#000" stroke="#000">0</text>
<text class="d" x="884.96" y="342.45" transform="rotate(0.05 884.96 342.45)" fill="#000" stroke="#000">0</text>
<text class="d" x="909.39" y="342.45" transform="rotate(0.05 909.39 342.45)" fill="#000" stroke="#000">0</text>
<text class="d" x="933.82" y="342.45" transform="rotate(0.05 933.82 342.45)" fill="#000" stroke="#000">0</text>
<text class="d" x="958.26" y="342.45" transform="rotate(0.05 958.26 342.45)" fill="#000" stroke="#000">0</text>
<text class="d" x="982.69" y="342.45" transform="rotate(0.05 982.69 342.45)" fill="#000" stroke="#000">0</text>
<text class="d" x="1007.12" y="342.45" transform="rotate(0.05 1007.12 342.45)" fill="#000" stroke="#000">0</text>
<text class="d" x="1031.55" y="342.45" transform="rotate(0.05 1031.55 342.45)" fill="#000" stroke="#000">0</text>
<text class="d d1" x="1055.98" y="342.45" transform="rotate(0.05 1055.98 342.45)" fill="#000" stroke="#000">1</text>
<text class="d d1" x="1080.42" y="342.45" transform="rotate(0.05 1080.42 342.45)" fill="#000" stroke="#000">1</text>
<text class="d" x="1104.85" y="342.45" transform="rotate(0.05 1104.85 342.45)" fill="#000" stroke="#000">0</text>
<text class="d d1" x="1129.28" y="342.45" transform="rotate(0.05 1129.28 342.45)" fill="#000" stroke="#000">1</text>
</g>
<g>
<text class="rl" x="423.9" y="367.75" transform="rotate(0.05 423.9 367.75)" textLength="31.8" lengthAdjust="spacingAndGlyphs">1101</text>
<text class="d d1" x="469.62" y="365.58" transform="rotate(0.05 469.62 365.58)" fill="#000" stroke="#000">1</text>
<text class="d" x="494.05" y="365.58" transform="rotate(0.05 494.05 365.58)" fill="#000" stroke="#000">0</text>
<text class="d" x="518.48" y="365.58" transform="rotate(0.05 518.48 365.58)" fill="#000" stroke="#000">0</text>
<text class="d" x="542.91" y="365.58" transform="rotate(0.05 542.91 365.58)" fill="#000" stroke="#000">0</text>
<text class="d" x="567.34" y="365.58" transform="rotate(0.05 567.34 365.58)" fill="#000" stroke="#000">0</text>
<text class="d" x="591.78" y="365.58" transform="rotate(0.05 591.78 365.58)" fill="#000" stroke="#000">0</text>
<text class="d" x="616.21" y="365.58" transform="rotate(0.05 616.21 365.58)" fill="#000" stroke="#000">0</text>
<text class="d" x="640.64" y="365.58" transform="rotate(0.05 640.64 365.58)" fill="#000" stroke="#000">0</text>
<text class="d" x="665.07" y="365.58" transform="rotate(0.05 665.07 365.58)" fill="#000" stroke="#000">0</text>
<text class="d" x="689.50" y="365.58" transform="rotate(0.05 689.50 365.58)" fill="#000" stroke="#000">0</text>
<text class="d" x="713.94" y="365.58" transform="rotate(0.05 713.94 365.58)" fill="#000" stroke="#000">0</text>
<text class="d" x="738.37" y="365.58" transform="rotate(0.05 738.37 365.58)" fill="#000" stroke="#000">0</text>
<text class="d" x="762.80" y="365.58" transform="rotate(0.05 762.80 365.58)" fill="#000" stroke="#000">0</text>
<text class="d d1" x="787.23" y="365.58" transform="rotate(0.05 787.23 365.58)" fill="#000" stroke="#000">1</text>
<text class="d" x="811.66" y="365.58" transform="rotate(0.05 811.66 365.58)" fill="#000" stroke="#000">0</text>
<text class="d" x="836.10" y="365.58" transform="rotate(0.05 836.10 365.58)" fill="#000" stroke="#000">0</text>
<text class="d" x="860.53" y="365.58" transform="rotate(0.05 860.53 365.58)" fill="#000" stroke="#000">0</text>
<text class="d" x="884.96" y="365.58" transform="rotate(0.05 884.96 365.58)" fill="#000" stroke="#000">0</text>
<text class="d" x="909.39" y="365.58" transform="rotate(0.05 909.39 365.58)" fill="#000" stroke="#000">0</text>
<text class="d" x="933.82" y="365.58" transform="rotate(0.05 933.82 365.58)" fill="#000" stroke="#000">0</text>
<text class="d" x="958.26" y="365.58" transform="rotate(0.05 958.26 365.58)" fill="#000" stroke="#000">0</text>
<text class="d" x="982.69" y="365.58" transform="rotate(0.05 982.69 365.58)" fill="#000" stroke="#000">0</text>
<text class="d" x="1007.12" y="365.58" transform="rotate(0.05 1007.12 365.58)" fill="#000" stroke="#000">0</text>
<text class="d" x="1031.55" y="365.58" transform="rotate(0.05 1031.55 365.58)" fill="#000" stroke="#000">0</text>
<text class="d d1" x="1055.98" y="365.58" transform="rotate(0.05 1055.98 365.58)" fill="#000" stroke="#000">1</text>
<text class="d d1" x="1080.42" y="365.58" transform="rotate(0.05 1080.42 365.58)" fill="#000" stroke="#000">1</text>
<text class="d d1" x="1104.85" y="365.58" transform="rotate(0.05 1104.85 365.58)" fill="#000" stroke="#000">1</text>
<text class="d" x="1129.28" y="365.58" transform="rotate(0.05 1129.28 365.58)" fill="#000" stroke="#000">0</text>
</g>
<g>
<text class="rl" x="423.9" y="390.88" transform="rotate(0.05 423.9 390.88)" textLength="31.8" lengthAdjust="spacingAndGlyphs">1110</text>
<text class="d" x="469.62" y="388.71" transform="rotate(0.05 469.62 388.71)" fill="#000" stroke="#000">0</text>
<text class="d" x="494.05" y="388.71" transform="rotate(0.05 494.05 388.71)" fill="#000" stroke="#000">0</text>
<text class="d" x="518.48" y="388.71" transform="rotate(0.05 518.48 388.71)" fill="#000" stroke="#000">0</text>
<text class="d" x="542.91" y="388.71" transform="rotate(0.05 542.91 388.71)" fill="#000" stroke="#000">0</text>
<text class="d" x="567.34" y="388.71" transform="rotate(0.05 567.34 388.71)" fill="#000" stroke="#000">0</text>
<text class="d" x="591.78" y="388.71" transform="rotate(0.05 591.78 388.71)" fill="#000" stroke="#000">0</text>
<text class="d" x="616.21" y="388.71" transform="rotate(0.05 616.21 388.71)" fill="#000" stroke="#000">0</text>
<text class="d d1" x="640.64" y="388.71" transform="rotate(0.05 640.64 388.71)" fill="#000" stroke="#000">1</text>
<text class="d" x="665.07" y="388.71" transform="rotate(0.05 665.07 388.71)" fill="#000" stroke="#000">0</text>
<text class="d" x="689.50" y="388.71" transform="rotate(0.05 689.50 388.71)" fill="#000" stroke="#000">0</text>
<text class="d" x="713.94" y="388.71" transform="rotate(0.05 713.94 388.71)" fill="#000" stroke="#000">0</text>
<text class="d" x="738.37" y="388.71" transform="rotate(0.05 738.37 388.71)" fill="#000" stroke="#000">0</text>
<text class="d" x="762.80" y="388.71" transform="rotate(0.05 762.80 388.71)" fill="#000" stroke="#000">0</text>
<text class="d" x="787.23" y="388.71" transform="rotate(0.05 787.23 388.71)" fill="#000" stroke="#000">0</text>
<text class="d" x="811.66" y="388.71" transform="rotate(0.05 811.66 388.71)" fill="#000" stroke="#000">0</text>
<text class="d" x="836.10" y="388.71" transform="rotate(0.05 836.10 388.71)" fill="#000" stroke="#000">0</text>
<text class="d" x="860.53" y="388.71" transform="rotate(0.05 860.53 388.71)" fill="#000" stroke="#000">0</text>
<text class="d d1" x="884.96" y="388.71" transform="rotate(0.05 884.96 388.71)" fill="#000" stroke="#000">1</text>
<text class="d" x="909.39" y="388.71" transform="rotate(0.05 909.39 388.71)" fill="#000" stroke="#000">0</text>
<text class="d" x="933.82" y="388.71" transform="rotate(0.05 933.82 388.71)" fill="#000" stroke="#000">0</text>
<text class="d" x="958.26" y="388.71" transform="rotate(0.05 958.26 388.71)" fill="#000" stroke="#000">0</text>
<text class="d" x="982.69" y="388.71" transform="rotate(0.05 982.69 388.71)" fill="#000" stroke="#000">0</text>
<text class="d" x="1007.12" y="388.71" transform="rotate(0.05 1007.12 388.71)" fill="#000" stroke="#000">0</text>
<text class="d" x="1031.55" y="388.71" transform="rotate(0.05 1031.55 388.71)" fill="#000" stroke="#000">0</text>
<text class="d" x="1055.98" y="388.71" transform="rotate(0.05 1055.98 388.71)" fill="#FF0000" stroke="#FF0000">0</text>
<text class="d" x="1080.42" y="388.71" transform="rotate(0.05 1080.42 388.71)" fill="#FF0000" stroke="#FF0000">0</text>
<text class="d" x="1104.85" y="388.71" transform="rotate(0.05 1104.85 388.71)" fill="#FF0000" stroke="#FF0000">0</text>
<text class="d" x="1129.28" y="388.71" transform="rotate(0.05 1129.28 388.71)" fill="#FF0000" stroke="#FF0000">0</text>
</g>
<g>
<text class="rl" x="423.9" y="414.01" transform="rotate(0.05 423.9 414.01)" textLength="30.2" lengthAdjust="spacingAndGlyphs">1111</text>
<text class="d" x="469.62" y="411.84" transform="rotate(0.05 469.62 411.84)" fill="#000" stroke="#000">0</text>
<text class="d" x="494.05" y="411.84" transform="rotate(0.05 494.05 411.84)" fill="#000" stroke="#000">0</text>
<text class="d" x="518.48" y="411.84" transform="rotate(0.05 518.48 411.84)" fill="#000" stroke="#000">0</text>
<text class="d d1" x="542.91" y="411.84" transform="rotate(0.05 542.91 411.84)" fill="#000" stroke="#000">1</text>
<text class="d" x="567.34" y="411.84" transform="rotate(0.05 567.34 411.84)" fill="#000" stroke="#000">0</text>
<text class="d" x="591.78" y="411.84" transform="rotate(0.05 591.78 411.84)" fill="#000" stroke="#000">0</text>
<text class="d" x="616.21" y="411.84" transform="rotate(0.05 616.21 411.84)" fill="#000" stroke="#000">0</text>
<text class="d" x="640.64" y="411.84" transform="rotate(0.05 640.64 411.84)" fill="#000" stroke="#000">0</text>
<text class="d" x="665.07" y="411.84" transform="rotate(0.05 665.07 411.84)" fill="#000" stroke="#000">0</text>
<text class="d" x="689.50" y="411.84" transform="rotate(0.05 689.50 411.84)" fill="#000" stroke="#000">0</text>
<text class="d" x="713.94" y="411.84" transform="rotate(0.05 713.94 411.84)" fill="#000" stroke="#000">0</text>
<text class="d" x="738.37" y="411.84" transform="rotate(0.05 738.37 411.84)" fill="#000" stroke="#000">0</text>
<text class="d" x="762.80" y="411.84" transform="rotate(0.05 762.80 411.84)" fill="#000" stroke="#000">0</text>
<text class="d" x="787.23" y="411.84" transform="rotate(0.05 787.23 411.84)" fill="#000" stroke="#000">0</text>
<text class="d" x="811.66" y="411.84" transform="rotate(0.05 811.66 411.84)" fill="#000" stroke="#000">0</text>
<text class="d" x="836.10" y="411.84" transform="rotate(0.05 836.10 411.84)" fill="#000" stroke="#000">0</text>
<text class="d d1" x="860.53" y="411.84" transform="rotate(0.05 860.53 411.84)" fill="#000" stroke="#000">1</text>
<text class="d" x="884.96" y="411.84" transform="rotate(0.05 884.96 411.84)" fill="#000" stroke="#000">0</text>
<text class="d" x="909.39" y="411.84" transform="rotate(0.05 909.39 411.84)" fill="#000" stroke="#000">0</text>
<text class="d" x="933.82" y="411.84" transform="rotate(0.05 933.82 411.84)" fill="#000" stroke="#000">0</text>
<text class="d" x="958.26" y="411.84" transform="rotate(0.05 958.26 411.84)" fill="#000" stroke="#000">0</text>
<text class="d" x="982.69" y="411.84" transform="rotate(0.05 982.69 411.84)" fill="#000" stroke="#000">0</text>
<text class="d" x="1007.12" y="411.84" transform="rotate(0.05 1007.12 411.84)" fill="#000" stroke="#000">0</text>
<text class="d" x="1031.55" y="411.84" transform="rotate(0.05 1031.55 411.84)" fill="#000" stroke="#000">0</text>
<text class="d" x="1055.98" y="411.84" transform="rotate(0.05 1055.98 411.84)" fill="#FF0000" stroke="#FF0000">0</text>
<text class="d" x="1080.42" y="411.84" transform="rotate(0.05 1080.42 411.84)" fill="#FF0000" stroke="#FF0000">0</text>
<text class="d" x="1104.85" y="411.84" transform="rotate(0.05 1104.85 411.84)" fill="#FF0000" stroke="#FF0000">0</text>
<text class="d" x="1129.28" y="411.84" transform="rotate(0.05 1129.28 411.84)" fill="#FF0000" stroke="#FF0000">0</text>
</g>
</g>
<g id="header">
<text class="cj" x="402.7" y="44.7" transform="rotate(0.05 402.7 44.7)" font-size="17.5" fill="#7030A0" stroke="#7030A0" stroke-width="0.25">微地址</text>
<text class="cj" x="683.4" y="28.3" transform="rotate(0.05 683.4 28.3)" font-size="17.6" fill="#0070C0">操作控制字段</text>
<text class="cj" x="1015.2" y="26.0" transform="rotate(0.05 1015.2 26.0)" font-size="17.6" fill="#C00000">顺序控制字段</text>
<path d="M457.4 25V49M995.4 25.5V49M1140.6 25V49" stroke="#3A85D0" stroke-width="1.2" fill="none"/>
<path d="M466 32.4H988" stroke="#3A85D0" stroke-width="1.1" fill="none"/>
<path d="M458.0 32.3l9.2-3v6zM995.5 32.3l-9.2-3v6z" fill="#0563C1"/>
<path d="M1005 32.3H1132" stroke="#C00000" stroke-width="1.1" fill="none"/>
<path d="M996.6 32.3l9.2-3v6zM1140.2 32.3l-9.2-3v6z" fill="#C00000"/>
</g>
<g id="word">
<rect x="418.60" y="630.95" width="48.12" height="69.20" fill="#FFFF00"/>
<rect x="707.32" y="630.95" width="48.12" height="69.20" fill="#FFFF00"/>
<rect x="803.56" y="630.95" width="48.12" height="69.20" fill="#FFFF00"/>
<rect x="1188.52" y="630.95" width="48.12" height="69.20" fill="#80C4FF"/>
<rect x="1236.64" y="630.95" width="48.12" height="69.20" fill="#80C4FF"/>
<rect x="1284.76" y="630.95" width="48.12" height="69.20" fill="#FFC000"/>
<rect x="1332.88" y="630.95" width="48.12" height="69.20" fill="#FFC000"/>
<rect x="1381.00" y="630.95" width="48.12" height="69.20" fill="#FFC000"/>
<rect x="1429.12" y="630.95" width="47.03" height="69.20" fill="#FFC000"/>
<path d="M178.00 630.95V700.15M226.12 630.95V700.15M274.24 630.95V700.15M322.36 630.95V700.15M370.48 630.95V700.15M418.60 630.95V700.15M466.72 630.95V700.15M514.84 630.95V700.15M562.96 630.95V700.15M611.08 630.95V700.15M659.20 630.95V700.15M707.32 630.95V700.15M755.44 630.95V700.15M803.56 630.95V700.15M851.68 630.95V700.15M899.80 630.95V700.15M947.92 630.95V700.15M996.04 630.95V700.15M1044.16 630.95V700.15M1092.28 630.95V700.15M1140.40 630.95V700.15M1188.52 630.95V700.15M1236.64 630.95V700.15M1284.76 630.95V700.15M1332.88 630.95V700.15M1381.00 630.95V700.15M1429.12 630.95V700.15" stroke="#000" stroke-width="2.9" fill="none"/>
<rect x="129.85" y="630.95" width="1346.30" height="69.20" rx="1.2" ry="1.2" fill="none" stroke="#3B3838" stroke-width="5.70"/>
<text class="bd" x="153.53" y="675.9" transform="rotate(0.05 153.53 675.9)" fill="#000" stroke="#000">0</text>
<text class="nm" x="155.00" y="732.9" transform="rotate(0.05 155.00 732.9)">1</text>
<text class="bd" x="201.66" y="675.9" transform="rotate(0.05 201.66 675.9)" fill="#000" stroke="#000">0</text>
<text class="nm" x="203.10" y="732.9" transform="rotate(0.05 203.10 732.9)">2</text>
<text class="bd" x="249.78" y="675.9" transform="rotate(0.05 249.78 675.9)" fill="#000" stroke="#000">0</text>
<text class="nm" x="251.20" y="732.9" transform="rotate(0.05 251.20 732.9)">3</text>
<text class="bd" x="297.90" y="675.9" transform="rotate(0.05 297.90 675.9)" fill="#000" stroke="#000">0</text>
<text class="nm" x="299.30" y="732.9" transform="rotate(0.05 299.30 732.9)">4</text>
<text class="bd" x="346.02" y="675.9" transform="rotate(0.05 346.02 675.9)" fill="#000" stroke="#000">0</text>
<text class="nm" x="347.40" y="732.9" transform="rotate(0.05 347.40 732.9)">5</text>
<text class="bd" x="394.14" y="675.9" transform="rotate(0.05 394.14 675.9)" fill="#000" stroke="#000">0</text>
<text class="nm" x="395.50" y="732.9" transform="rotate(0.05 395.50 732.9)">6</text>
<text class="bd" x="442.26" y="675.9" transform="rotate(0.05 442.26 675.9)" fill="#0033CC" stroke="#0033CC">1</text>
<text class="nm" x="443.60" y="732.9" transform="rotate(0.05 443.60 732.9)">7</text>
<text class="bd" x="490.38" y="675.9" transform="rotate(0.05 490.38 675.9)" fill="#000" stroke="#000">0</text>
<text class="nm" x="491.70" y="732.9" transform="rotate(0.05 491.70 732.9)">8</text>
<text class="bd" x="538.50" y="675.9" transform="rotate(0.05 538.50 675.9)" fill="#000" stroke="#000">0</text>
<text class="nm" x="539.80" y="732.9" transform="rotate(0.05 539.80 732.9)">9</text>
<text class="bd" x="586.62" y="675.9" transform="rotate(0.05 586.62 675.9)" fill="#000" stroke="#000">0</text>
<text class="nm" x="587.90" y="732.9" transform="rotate(0.05 587.90 732.9)">10</text>
<text class="bd" x="634.74" y="675.9" transform="rotate(0.05 634.74 675.9)" fill="#000" stroke="#000">0</text>
<text class="nm" x="636.00" y="732.9" transform="rotate(0.05 636.00 732.9)">11</text>
<text class="bd" x="682.86" y="675.9" transform="rotate(0.05 682.86 675.9)" fill="#000" stroke="#000">0</text>
<text class="nm" x="684.10" y="732.9" transform="rotate(0.05 684.10 732.9)">12</text>
<text class="bd" x="730.98" y="675.9" transform="rotate(0.05 730.98 675.9)" fill="#0033CC" stroke="#0033CC">1</text>
<text class="nm" x="732.20" y="732.9" transform="rotate(0.05 732.20 732.9)">13</text>
<text class="bd" x="779.10" y="675.9" transform="rotate(0.05 779.10 675.9)" fill="#000" stroke="#000">0</text>
<text class="nm" x="780.30" y="732.9" transform="rotate(0.05 780.30 732.9)">14</text>
<text class="bd" x="827.22" y="675.9" transform="rotate(0.05 827.22 675.9)" fill="#0033CC" stroke="#0033CC">1</text>
<text class="nm" x="828.40" y="732.9" transform="rotate(0.05 828.40 732.9)">15</text>
<text class="bd" x="875.34" y="675.9" transform="rotate(0.05 875.34 675.9)" fill="#000" stroke="#000">0</text>
<text class="nm" x="876.50" y="732.9" transform="rotate(0.05 876.50 732.9)">16</text>
<text class="bd" x="923.46" y="675.9" transform="rotate(0.05 923.46 675.9)" fill="#000" stroke="#000">0</text>
<text class="nm" x="924.60" y="732.9" transform="rotate(0.05 924.60 732.9)">17</text>
<text class="bd" x="971.58" y="675.9" transform="rotate(0.05 971.58 675.9)" fill="#000" stroke="#000">0</text>
<text class="nm" x="972.70" y="732.9" transform="rotate(0.05 972.70 732.9)">18</text>
<text class="bd" x="1019.70" y="675.9" transform="rotate(0.05 1019.70 675.9)" fill="#000" stroke="#000">0</text>
<text class="nm" x="1020.80" y="732.9" transform="rotate(0.05 1020.80 732.9)">19</text>
<text class="bd" x="1067.82" y="675.9" transform="rotate(0.05 1067.82 675.9)" fill="#000" stroke="#000">0</text>
<text class="nm" x="1068.90" y="732.9" transform="rotate(0.05 1068.90 732.9)">20</text>
<text class="bd" x="1115.94" y="675.9" transform="rotate(0.05 1115.94 675.9)" fill="#000" stroke="#000">0</text>
<text class="nm" x="1117.00" y="732.9" transform="rotate(0.05 1117.00 732.9)">21</text>
<text class="bd" x="1164.06" y="675.9" transform="rotate(0.05 1164.06 675.9)" fill="#000" stroke="#000">0</text>
<text class="nm" x="1165.10" y="732.9" transform="rotate(0.05 1165.10 732.9)">22</text>
<text class="bd" x="1212.18" y="675.9" transform="rotate(0.05 1212.18 675.9)" fill="#000" stroke="#000">0</text>
<text class="nm" x="1213.20" y="732.9" transform="rotate(0.05 1213.20 732.9)">23</text>
<text class="bd" x="1260.30" y="675.9" transform="rotate(0.05 1260.30 675.9)" fill="#000" stroke="#000">0</text>
<text class="nm" x="1261.30" y="732.9" transform="rotate(0.05 1261.30 732.9)">24</text>
<text class="bd" x="1308.42" y="675.9" transform="rotate(0.05 1308.42 675.9)" fill="#000" stroke="#000">0</text>
<text class="nm" x="1309.40" y="732.9" transform="rotate(0.05 1309.40 732.9)">25</text>
<text class="bd" x="1356.54" y="675.9" transform="rotate(0.05 1356.54 675.9)" fill="#000" stroke="#000">0</text>
<text class="nm" x="1357.50" y="732.9" transform="rotate(0.05 1357.50 732.9)">26</text>
<text class="bd" x="1404.66" y="675.9" transform="rotate(0.05 1404.66 675.9)" fill="#000" stroke="#000">0</text>
<text class="nm" x="1405.60" y="732.9" transform="rotate(0.05 1405.60 732.9)">27</text>
<text class="bd" x="1452.23" y="675.9" transform="rotate(0.05 1452.23 675.9)" fill="#000" stroke="#000">1</text>
<text class="nm" x="1453.70" y="732.9" transform="rotate(0.05 1453.70 732.9)">28</text>
</g>
<g id="arrows">
<path d="M155.95 580.50V628.80" stroke="#44546A" stroke-width="2.7" fill="none"/>
<path d="M155.95 569.80l6.2 19.6l-6.2 -7.6l-6.2 7.6z" fill="#44546A"/>
<path d="M203.50 521.60V631.00" stroke="#44546A" stroke-width="2.7" fill="none"/>
<path d="M203.50 510.90l6.2 19.6l-6.2 -7.6l-6.2 7.6z" fill="#44546A"/>
<path d="M249.80 580.50V628.80" stroke="#44546A" stroke-width="2.7" fill="none"/>
<path d="M249.80 569.80l6.2 19.6l-6.2 -7.6l-6.2 7.6z" fill="#44546A"/>
<path d="M297.20 521.60V631.00" stroke="#44546A" stroke-width="2.7" fill="none"/>
<path d="M297.20 510.90l6.2 19.6l-6.2 -7.6l-6.2 7.6z" fill="#44546A"/>
<path d="M348.90 580.50V628.80" stroke="#44546A" stroke-width="2.7" fill="none"/>
<path d="M348.90 569.80l6.2 19.6l-6.2 -7.6l-6.2 7.6z" fill="#44546A"/>
<path d="M396.20 522.20V631.00" stroke="#44546A" stroke-width="2.7" fill="none"/>
<path d="M396.20 511.50l6.2 19.6l-6.2 -7.6l-6.2 7.6z" fill="#44546A"/>
<path d="M442.50 579.40V629.50" stroke="#0033CC" stroke-width="3.0" fill="none"/>
<path d="M442.50 568.10l6.2 19.6l-6.2 -7.6l-6.2 7.6z" fill="#0033CC"/>
<path d="M490.00 522.20V631.00" stroke="#44546A" stroke-width="2.7" fill="none"/>
<path d="M490.00 511.50l6.2 19.6l-6.2 -7.6l-6.2 7.6z" fill="#44546A"/>
<path d="M541.80 580.50V628.80" stroke="#44546A" stroke-width="2.7" fill="none"/>
<path d="M541.80 569.80l6.2 19.6l-6.2 -7.6l-6.2 7.6z" fill="#44546A"/>
<path d="M589.10 522.20V631.00" stroke="#44546A" stroke-width="2.7" fill="none"/>
<path d="M589.10 511.50l6.2 19.6l-6.2 -7.6l-6.2 7.6z" fill="#44546A"/>
<path d="M635.70 580.50V628.80" stroke="#44546A" stroke-width="2.7" fill="none"/>
<path d="M635.70 569.80l6.2 19.6l-6.2 -7.6l-6.2 7.6z" fill="#44546A"/>
<path d="M682.90 522.20V631.00" stroke="#44546A" stroke-width="2.7" fill="none"/>
<path d="M682.90 511.50l6.2 19.6l-6.2 -7.6l-6.2 7.6z" fill="#44546A"/>
<path d="M734.60 580.50V629.50" stroke="#0033CC" stroke-width="3.0" fill="none"/>
<path d="M734.60 569.20l6.2 19.6l-6.2 -7.6l-6.2 7.6z" fill="#0033CC"/>
<path d="M782.00 522.20V631.00" stroke="#44546A" stroke-width="2.7" fill="none"/>
<path d="M782.00 511.50l6.2 19.6l-6.2 -7.6l-6.2 7.6z" fill="#44546A"/>
<path d="M828.60 580.50V629.50" stroke="#0033CC" stroke-width="3.0" fill="none"/>
<path d="M828.60 569.20l6.2 19.6l-6.2 -7.6l-6.2 7.6z" fill="#0033CC"/>
<path d="M875.80 522.20V631.00" stroke="#44546A" stroke-width="2.7" fill="none"/>
<path d="M875.80 511.50l6.2 19.6l-6.2 -7.6l-6.2 7.6z" fill="#44546A"/>
<path d="M927.70 580.50V628.80" stroke="#44546A" stroke-width="2.7" fill="none"/>
<path d="M927.70 569.80l6.2 19.6l-6.2 -7.6l-6.2 7.6z" fill="#44546A"/>
<path d="M974.80 522.20V631.00" stroke="#44546A" stroke-width="2.7" fill="none"/>
<path d="M974.80 511.50l6.2 19.6l-6.2 -7.6l-6.2 7.6z" fill="#44546A"/>
<path d="M1021.70 580.50V628.80" stroke="#44546A" stroke-width="2.7" fill="none"/>
<path d="M1021.70 569.80l6.2 19.6l-6.2 -7.6l-6.2 7.6z" fill="#44546A"/>
<path d="M1068.90 522.20V631.00" stroke="#44546A" stroke-width="2.7" fill="none"/>
<path d="M1068.90 511.50l6.2 19.6l-6.2 -7.6l-6.2 7.6z" fill="#44546A"/>
<path d="M1120.80 580.50V628.80" stroke="#44546A" stroke-width="2.7" fill="none"/>
<path d="M1120.80 569.80l6.2 19.6l-6.2 -7.6l-6.2 7.6z" fill="#44546A"/>
<path d="M1167.80 522.20V631.00" stroke="#44546A" stroke-width="2.7" fill="none"/>
<path d="M1167.80 511.50l6.2 19.6l-6.2 -7.6l-6.2 7.6z" fill="#44546A"/>
<path d="M1206.20 583.70V632.60" stroke="#0033CC" stroke-width="2.8" fill="none"/>
<path d="M1206.20 573.00l6.2 19.6l-6.2 -7.6l-6.2 7.6z" fill="#0033CC"/>
<path d="M1257.00 523.40V632.60" stroke="#0033CC" stroke-width="2.8" fill="none"/>
<path d="M1257.00 512.70l6.2 19.6l-6.2 -7.6l-6.2 7.6z" fill="#0033CC"/>
<path d="M1308.40 580.60V630.50" stroke="#7030A0" stroke-width="2.4" fill="none"/>
<path d="M1308.40 570.90l6.2 19.6l-6.2 -7.6l-6.2 7.6z" fill="#7030A0"/>
<path d="M1357.60 580.60V630.50" stroke="#7030A0" stroke-width="2.4" fill="none"/>
<path d="M1357.60 570.90l6.2 19.6l-6.2 -7.6l-6.2 7.6z" fill="#7030A0"/>
<path d="M1406.50 580.60V630.50" stroke="#7030A0" stroke-width="2.4" fill="none"/>
<path d="M1406.50 570.90l6.2 19.6l-6.2 -7.6l-6.2 7.6z" fill="#7030A0"/>
<path d="M1455.20 580.60V630.50" stroke="#7030A0" stroke-width="2.4" fill="none"/>
<path d="M1455.20 570.90l6.2 19.6l-6.2 -7.6l-6.2 7.6z" fill="#7030A0"/>
</g>
<g id="labels">
<text class="lb" x="124.9" y="559.8" transform="rotate(0.05 124.9 559.8)" fill="#000" stroke="#000" textLength="30.3" lengthAdjust="spacingAndGlyphs">R0</text>
<text class="lb sb" x="157.9" y="567.2" transform="rotate(0.05 157.9 567.2)" fill="#000" stroke="#000" textLength="28.6" lengthAdjust="spacingAndGlyphs">out</text>
<text class="lb" x="181.3" y="503.0" transform="rotate(0.05 181.3 503.0)" fill="#000" stroke="#000" textLength="27.7" lengthAdjust="spacingAndGlyphs">R1</text>
<text class="lb sb" x="211.7" y="510.4" transform="rotate(0.05 211.7 510.4)" fill="#000" stroke="#000" textLength="28.2" lengthAdjust="spacingAndGlyphs">out</text>
<text class="lb" x="225.0" y="559.8" transform="rotate(0.05 225.0 559.8)" fill="#000" stroke="#000" textLength="31.4" lengthAdjust="spacingAndGlyphs">R2</text>
<text class="lb sb" x="258.5" y="567.2" transform="rotate(0.05 258.5 567.2)" fill="#000" stroke="#000" textLength="28.3" lengthAdjust="spacingAndGlyphs">out</text>
<text class="lb" x="270.2" y="503.0" transform="rotate(0.05 270.2 503.0)" fill="#000" stroke="#000" textLength="24.3" lengthAdjust="spacingAndGlyphs">IR</text>
<text class="lb sb" x="297.0" y="510.4" transform="rotate(0.05 297.0 510.4)" fill="#000" stroke="#000" textLength="28.6" lengthAdjust="spacingAndGlyphs">out</text>
<text class="lb" x="325.8" y="559.8" transform="rotate(0.05 325.8 559.8)" fill="#000" stroke="#000" textLength="15.4" lengthAdjust="spacingAndGlyphs">Z</text>
<text class="lb sb" x="342.6" y="567.2" transform="rotate(0.05 342.6 567.2)" fill="#000" stroke="#000" textLength="28.4" lengthAdjust="spacingAndGlyphs">out</text>
<text class="lb" x="366.9" y="503.0" transform="rotate(0.05 366.9 503.0)" fill="#000" stroke="#000" textLength="35.7" lengthAdjust="spacingAndGlyphs">DR</text>
<text class="lb sb" x="404.4" y="510.4" transform="rotate(0.05 404.4 510.4)" fill="#000" stroke="#000" textLength="28.4" lengthAdjust="spacingAndGlyphs">out</text>
<text class="lb" x="415.1" y="559.8" transform="rotate(0.05 415.1 559.8)" fill="#0033CC" stroke="#0033CC" textLength="31.6" lengthAdjust="spacingAndGlyphs">PC</text>
<text class="lb sb" x="448.6" y="567.2" transform="rotate(0.05 448.6 567.2)" fill="#0033CC" stroke="#0033CC" textLength="28.3" lengthAdjust="spacingAndGlyphs">out</text>
<text class="lb" x="461.4" y="503.0" transform="rotate(0.05 461.4 503.0)" fill="#000" stroke="#000" textLength="50.6" lengthAdjust="spacingAndGlyphs">DRE</text>
<text class="lb sb" x="513.6" y="510.4" transform="rotate(0.05 513.6 510.4)" fill="#000" stroke="#000" textLength="28.8" lengthAdjust="spacingAndGlyphs">out</text>
<text class="lb" x="518.7" y="559.8" transform="rotate(0.05 518.7 559.8)" fill="#000" stroke="#000" textLength="31.6" lengthAdjust="spacingAndGlyphs">R0</text>
<text class="lb sb" x="551.7" y="567.2" transform="rotate(0.05 551.7 567.2)" fill="#000" stroke="#000" textLength="15.4" lengthAdjust="spacingAndGlyphs">in</text>
<text class="lb" x="565.0" y="503.0" transform="rotate(0.05 565.0 503.0)" fill="#000" stroke="#000" textLength="27.7" lengthAdjust="spacingAndGlyphs">R1</text>
<text class="lb sb" x="594.8" y="510.4" transform="rotate(0.05 594.8 510.4)" fill="#000" stroke="#000" textLength="15.2" lengthAdjust="spacingAndGlyphs">in</text>
<text class="lb" x="613.4" y="559.8" transform="rotate(0.05 613.4 559.8)" fill="#000" stroke="#000" textLength="31.6" lengthAdjust="spacingAndGlyphs">R2</text>
<text class="lb sb" x="646.4" y="567.2" transform="rotate(0.05 646.4 567.2)" fill="#000" stroke="#000" textLength="15.2" lengthAdjust="spacingAndGlyphs">in</text>
<text class="lb" x="657.7" y="503.0" transform="rotate(0.05 657.7 503.0)" fill="#000" stroke="#000" textLength="24.3" lengthAdjust="spacingAndGlyphs">IR</text>
<text class="lb sb" x="684.0" y="510.4" transform="rotate(0.05 684.0 510.4)" fill="#000" stroke="#000" textLength="15.3" lengthAdjust="spacingAndGlyphs">in</text>
<text class="lb" x="715.6" y="559.8" transform="rotate(0.05 715.6 559.8)" fill="#0033CC" stroke="#0033CC" textLength="17.4" lengthAdjust="spacingAndGlyphs">X</text>
<text class="lb sb" x="734.6" y="567.2" transform="rotate(0.05 734.6 567.2)" fill="#0033CC" stroke="#0033CC" textLength="15.2" lengthAdjust="spacingAndGlyphs">in</text>
<text class="lb" x="753.9" y="503.0" transform="rotate(0.05 753.9 503.0)" fill="#000" stroke="#000" textLength="35.7" lengthAdjust="spacingAndGlyphs">DR</text>
<text class="lb sb" x="791.3" y="510.4" transform="rotate(0.05 791.3 510.4)" fill="#000" stroke="#000" textLength="15.2" lengthAdjust="spacingAndGlyphs">in</text>
<text class="lb" x="805.5" y="559.8" transform="rotate(0.05 805.5 559.8)" fill="#0033CC" stroke="#0033CC" textLength="36.6" lengthAdjust="spacingAndGlyphs">AR</text>
<text class="lb sb" x="843.7" y="567.2" transform="rotate(0.05 843.7 567.2)" fill="#0033CC" stroke="#0033CC" textLength="15.2" lengthAdjust="spacingAndGlyphs">in</text>
<text class="lb" x="847.9" y="503.0" transform="rotate(0.05 847.9 503.0)" fill="#000" stroke="#000" textLength="50.8" lengthAdjust="spacingAndGlyphs">DRE</text>
<text class="lb sb" x="900.4" y="510.4" transform="rotate(0.05 900.4 510.4)" fill="#000" stroke="#000" textLength="15.2" lengthAdjust="spacingAndGlyphs">in</text>
<text class="lb" x="901.1" y="559.8" transform="rotate(0.05 901.1 559.8)" fill="#000" stroke="#000" textLength="32.5" lengthAdjust="spacingAndGlyphs">PC</text>
<text class="lb sb" x="935.2" y="567.2" transform="rotate(0.05 935.2 567.2)" fill="#000" stroke="#000" textLength="15.2" lengthAdjust="spacingAndGlyphs">in</text>
<text class="lb" style="stroke-width:1.1px" x="942.8" y="503.0" transform="rotate(0.05 942.8 503.0)" fill="#000" stroke="#000" textLength="71.3" lengthAdjust="spacingAndGlyphs">Write</text>
<text class="lb" style="stroke-width:1.1px" x="995.2" y="559.8" transform="rotate(0.05 995.2 559.8)" fill="#000" stroke="#000" textLength="63.0" lengthAdjust="spacingAndGlyphs">Read</text>
<text class="lb" x="1053.3" y="503.0" transform="rotate(0.05 1053.3 503.0)" fill="#000" stroke="#000" textLength="28.2" lengthAdjust="spacingAndGlyphs">+1</text>
<text class="lb" x="1089.6" y="559.8" transform="rotate(0.05 1089.6 559.8)" fill="#000" stroke="#000" textLength="59.0" lengthAdjust="spacingAndGlyphs">ADD</text>
<text class="lb" x="1143.7" y="503.0" transform="rotate(0.05 1143.7 503.0)" fill="#000" stroke="#000" textLength="51.8" lengthAdjust="spacingAndGlyphs">SUB</text>
<text class="lb" x="1190.4" y="559.8" transform="rotate(0.05 1190.4 559.8)" fill="#0033CC" stroke="#0033CC" textLength="27.1" lengthAdjust="spacingAndGlyphs">P1</text>
<text class="lb" x="1235.6" y="503.0" transform="rotate(0.05 1235.6 503.0)" fill="#0033CC" stroke="#0033CC" textLength="30.3" lengthAdjust="spacingAndGlyphs">P2</text>
<text class="cj" x="1305.6" y="556.2" transform="rotate(0.05 1305.6 556.2)" font-size="34.4" fill="#7030A0" stroke="#7030A0" stroke-width="0.5">下址字段</text>
<text class="cj" x="-1.8" y="616.2" transform="rotate(0.05 -1.8 616.2)" font-size="37.3" fill="#000" stroke="#000" stroke-width="0.5" textLength="115" lengthAdjust="spacingAndGlyphs">微地址</text>
<text x="6.0" y="687.9" transform="rotate(0.05 6.0 687.9)" font-family="'DejaVu Sans Condensed','DejaVu Sans','Liberation Sans',sans-serif" font-weight="bold" font-size="35.6" fill="#000" stroke="#000" stroke-width="2.5" stroke-linejoin="round" textLength="89.6" lengthAdjust="spacingAndGlyphs">0000</text>
</g>
</svg></body></html>
